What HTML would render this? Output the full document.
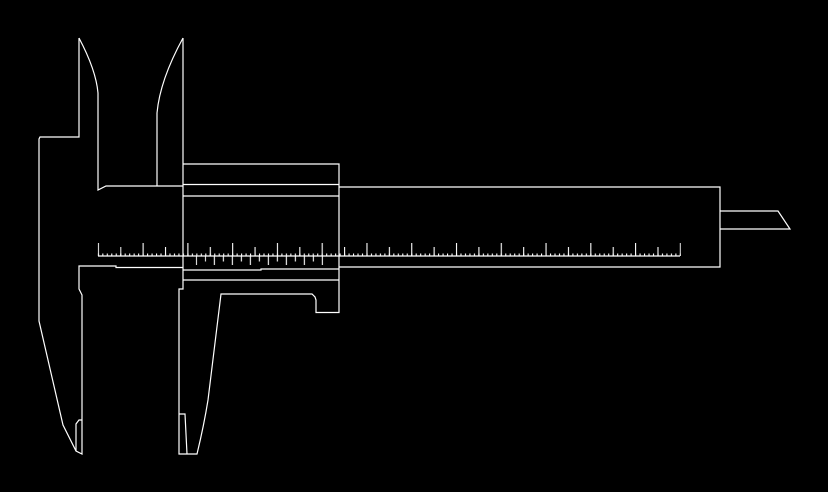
<!DOCTYPE html>
<html><head><meta charset="utf-8"><style>html,body{margin:0;padding:0;background:#000;}svg{display:block}</style></head>
<body>
<svg width="828" height="492" viewBox="0 0 828 492" xmlns="http://www.w3.org/2000/svg">
<defs>
<pattern id="ps" patternUnits="userSpaceOnUse" x="97.8" y="0" width="4.477" height="492"><rect x="0" y="0" width="1.1" height="492" fill="#fff"/></pattern>
<pattern id="pm" patternUnits="userSpaceOnUse" x="120.2" y="0" width="44.77" height="492"><rect x="0" y="0" width="1.1" height="492" fill="#fff"/></pattern>
<pattern id="pl" patternUnits="userSpaceOnUse" x="97.8" y="0" width="44.77" height="492"><rect x="0" y="0" width="1.1" height="492" fill="#fff"/></pattern>
<pattern id="pvl" patternUnits="userSpaceOnUse" x="195.8" y="0" width="18" height="492"><rect x="0" y="0" width="1.1" height="492" fill="#fff"/></pattern>
<pattern id="pvs" patternUnits="userSpaceOnUse" x="204.8" y="0" width="18" height="492"><rect x="0" y="0" width="1.1" height="492" fill="#fff"/></pattern>
</defs>
<rect width="828" height="492" fill="#000"/>
<!-- ticks -->
<rect x="97.8" y="253.5" width="583" height="2.5" fill="url(#ps)"/>
<rect x="120.2" y="247" width="560" height="9" fill="url(#pm)"/>
<rect x="97.8" y="243" width="583" height="13" fill="url(#pl)"/>
<rect x="195.8" y="256" width="127.5" height="9" fill="url(#pvl)"/>
<rect x="204.8" y="256" width="109.5" height="5.5" fill="url(#pvs)"/>
<g fill="none" stroke="#fff" stroke-width="1.2">
<path d="M79,38 Q96,70 98,93 L98,190 L106,186 L183,186"/>
<path d="M79,38 L79,137 L40,137 L39,139 L39,321 L63,425 L76,451 L82,454 L82,295 L79,289 L79,266 L116,266 L116,267.5 L183,267.5"/>
<path d="M76,451 L76,424 L79,420 L82,420"/>
<path d="M183,38 Q160,80 157,113 L157,186"/>
<path d="M183,38 L183,289 L179,289 L179,454 L197,454 Q204,425 208,400 L221,294 L312,294 L315,297 L316,300 L316,312.5 L339,312.5 L339,164 L183,164"/>
<path d="M179,414 L185,414 L187,454"/>
<path d="M183,184.5 L339,184.5 M183,196 L339,196"/>
<path d="M183,270 L261,270 L261,269 L339,269 M183,280 L339,280"/>
<path d="M339,187 L720,187 L720,267 L339,267"/>
<path d="M720,211 L778,211 L790,229 L720,229"/>
<path d="M98,256 L680,256"/>
</g>
</svg>
</body></html>
